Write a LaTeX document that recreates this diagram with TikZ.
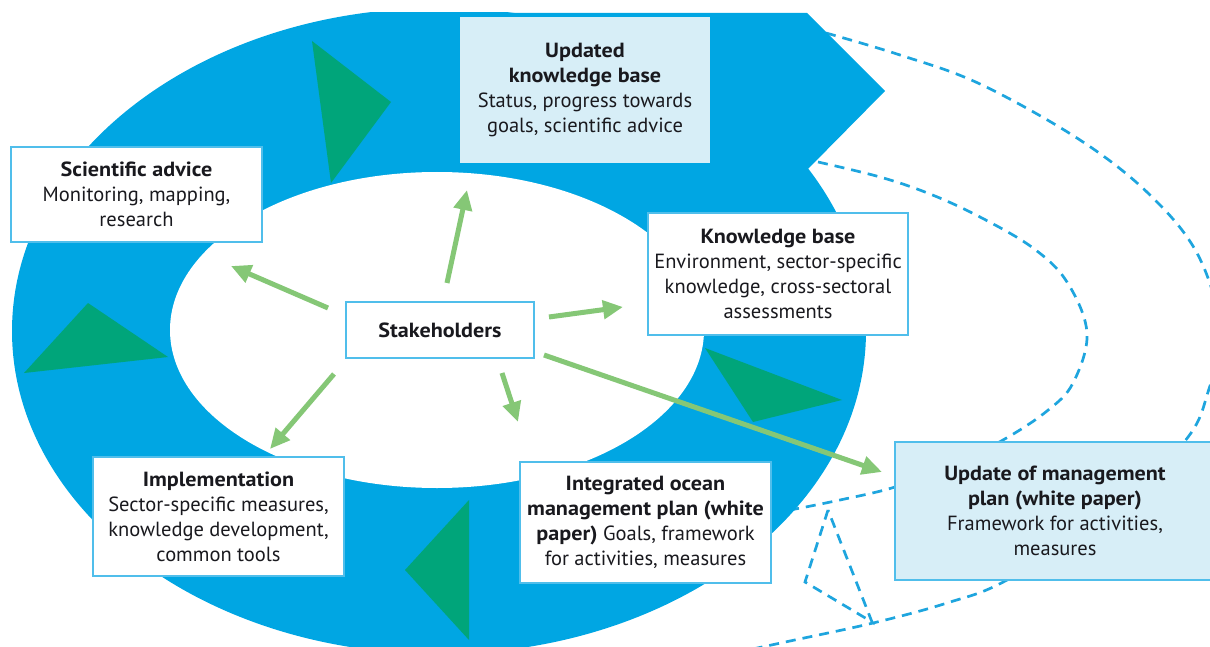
\documentclass[tikz,border=0pt]{standalone}
\usepackage{fontspec}
\setmainfont{PT Sans}[BoldFeatures={FakeStretch=1.08}]
\usetikzlibrary{arrows.meta}

\definecolor{ringblue}{RGB}{0,166,227}
\definecolor{cyclegreen}{RGB}{0,165,122}
\definecolor{arrowgreen}{RGB}{133,199,118}
\definecolor{boxline}{RGB}{80,190,235}
\definecolor{paleblue}{RGB}{215,238,247}
\definecolor{dashblue}{RGB}{30,165,222}
\definecolor{ink}{RGB}{25,25,30}

\begin{document}
\begin{tikzpicture}[x=1pt,y=-1pt,
  box/.style={draw=boxline, line width=1.5pt, fill=white, inner sep=0pt,
    align=center, text=ink, font=\fontsize{20.5}{25}\selectfont},
  palebox/.style={box, fill=paleblue},
  garrow/.style={arrowgreen, line width=5pt, -{Triangle[length=20pt,width=18pt]}},
  dashline/.style={dashblue, line width=2.7pt, dash pattern=on 10pt off 7pt},
  turn/.style={fill=cyclegreen}]
\useasboundingbox (0,0) rectangle (1210,647);
\clip (0,0) rectangle (1210,647);

% feedback loops leaving the cycle to the right
\draw[dashline] plot[smooth, tension=0.6] coordinates {(826,33) (900,55) (980,84)
  (1080,140) (1150,195) (1198,255) (1220,330) (1208,392) (1185,441) (1110,515)
  (1007,580) (947,603) (873,623) (790,641) (720,656)};
\draw[dashline] plot[smooth, tension=0.6] coordinates {(818,162) (880,177) (930,194)
  (980,217) (1033,248) (1067,282) (1087,333) (1073,383) (1047,411) (1003,440)
  (950,466) (895,487) (840,500) (780,512)};
\draw[dashline] (828,510) -- (805,582) -- (872,622) -- cycle;

% the management cycle ring, opening into an arrow at the top right
\begin{scope}
  \clip (0,13) rectangle (1210,647);
  \fill[ringblue] (439,331) ellipse [x radius=427, y radius=323];
  \fill[ringblue] (439,13) -- (807,13) -- (885,91) -- (807,170) -- (439,170) -- cycle;
\end{scope}
\fill[white] (437,330) ellipse [x radius=267, y radius=158];

% direction markers on the ring
\fill[turn] (312,41) -- (391,102) -- (331,183) -- cycle;
\fill[turn] (88,303) -- (168,357) -- (24,373) -- cycle;
\fill[turn] (469,500) -- (469,640) -- (405,570) -- cycle;
\fill[turn] (705,348) -- (842,400) -- (753,422) -- cycle;

% stages
\node[box, minimum width=251, minimum height=95] (sci) at (136.5,194.5)
  {\textbf{Scientific advice}\\Monitoring, mapping,\\research};
\node[palebox, draw=none, minimum width=250, minimum height=146] (upd) at (585,90)
  {\textbf{Updated}\\\textbf{knowledge base}\\Status, progress towards\\goals, scientific advice};
\node[box, minimum width=260, minimum height=122] (kb) at (778,274)
  {\textbf{Knowledge base}\\Environment, sector-specific\\knowledge, cross-sectoral\\assessments};
\node[box, minimum width=188, minimum height=56] (stake) at (440,330)
  {\textbf{Stakeholders}};
\node[box, minimum width=251, minimum height=119] (impl) at (218.5,516.5)
  {\textbf{Implementation}\\Sector-specific measures,\\knowledge development,\\common tools};
\node[box, minimum width=251, minimum height=121] (iomp) at (645.5,522.5)
  {\textbf{Integrated ocean}\\\textbf{management plan (white}\\\textbf{paper)} Goals, framework\\for activities, measures};
\node[palebox, minimum width=320, minimum height=138] (upm) at (1055,511)
  {\textbf{Update of management}\\\textbf{plan (white paper)}\\Framework for activities,\\measures};

% stakeholder involvement
\coordinate (s-sci) at (328,308);  \coordinate (e-sci) at (231,266);
\coordinate (s-upd) at (447,283);  \coordinate (e-upd) at (467,190);
\coordinate (s-kb) at (549,317);   \coordinate (e-kb) at (623,307);
\coordinate (s-impl) at (334,374); \coordinate (e-impl) at (270,449);
\coordinate (s-iomp) at (502,373); \coordinate (e-iomp) at (518,422);
\coordinate (s-upm) at (544,355);  \coordinate (e-upm) at (882,472);
\foreach \t in {sci,upd,kb,impl,iomp,upm}
  \draw[garrow] (s-\t) -- (e-\t);
\end{tikzpicture}
\end{document}
